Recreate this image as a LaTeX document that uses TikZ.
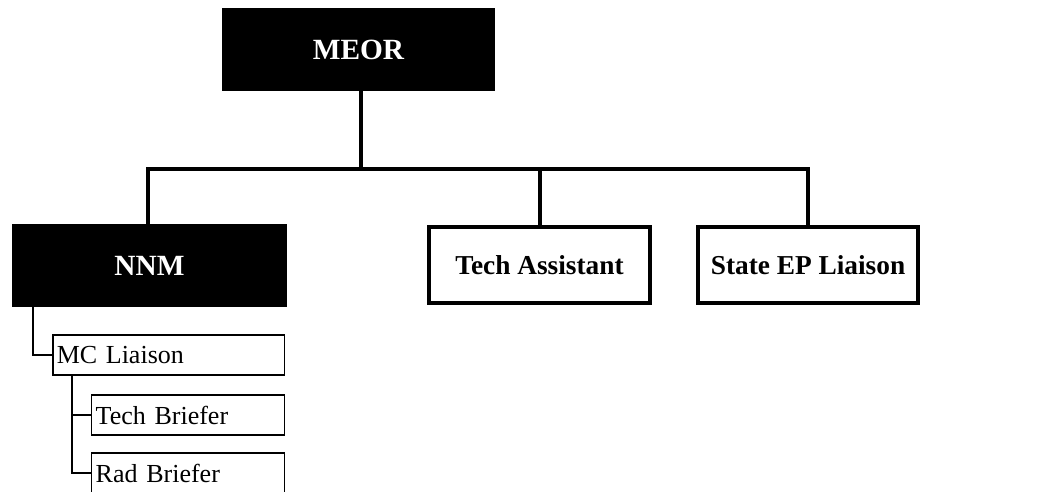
\documentclass[tikz,border=0pt]{standalone}
\usepackage{fontspec}
\setmainfont{Liberation Serif}
\begin{document}
\begin{tikzpicture}[x=0.75pt,y=-0.75pt,
  headbox/.style={fill=black,draw=none,text=white,font=\bfseries\fontsize{22}{26}\selectfont,
    inner sep=0pt,outer sep=0pt,minimum width=#1},
  staffbox/.style={draw=black,line width=3pt,fill=white,font=\bfseries\fontsize{20.5}{24}\selectfont,
    inner sep=0pt,outer sep=0pt,minimum height=57pt,minimum width=#1},
  subbox/.style={draw=black,line width=1.1pt,fill=white,font=\fontsize{19.5}{23}\selectfont,
    inner sep=0pt,outer sep=0pt,minimum height=30pt,text width=#1,align=left},
  mainlink/.style={line width=3pt,line join=miter},
  sublink/.style={line width=1.9pt,line join=miter}]
\useasboundingbox[fill=white] (0,0) rectangle (1039,492);

% top office and its staff
\node[headbox=204.75pt,minimum height=62.25pt] (meor) at (358.5,49.5) {MEOR};
\node[headbox=206.25pt,minimum height=62.25pt] (nnm) at (149.5,265.5) {NNM};
\node[staffbox=165.75pt] (tech) at (539.5,265) {Tech Assistant};
\node[staffbox=165pt] (sepl) at (808,265) {State EP Liaison};

% NNM support staff
\node[subbox=173.6pt] (mc) at (168.5,355) {\hspace*{3pt}MC Liaison};
\node[subbox=144.4pt] (tb) at (188,415) {\hspace*{3pt}Tech Briefer};
\node[subbox=144.4pt] (rb) at (188,473) {\hspace*{3pt}Rad Briefer};

% reporting lines
\coordinate (bar) at (361,169);
\coordinate (k0) at (148,0);
\coordinate (k1) at (33,0);
\coordinate (k2) at (72,0);
\draw[mainlink] (meor.south -| bar) -- (bar);
\draw[mainlink] (nnm.north -| k0) |- (sepl.north |- bar) -- (sepl.north);
\draw[mainlink] (tech.north) -- (tech.north |- bar);
\draw[sublink] (nnm.south -| k1) |- (mc.west);
\draw[sublink] (mc.south -| k2) |- (tb.west);
\draw[sublink] (mc.south -| k2) |- (rb.west);
\end{tikzpicture}
\end{document}
